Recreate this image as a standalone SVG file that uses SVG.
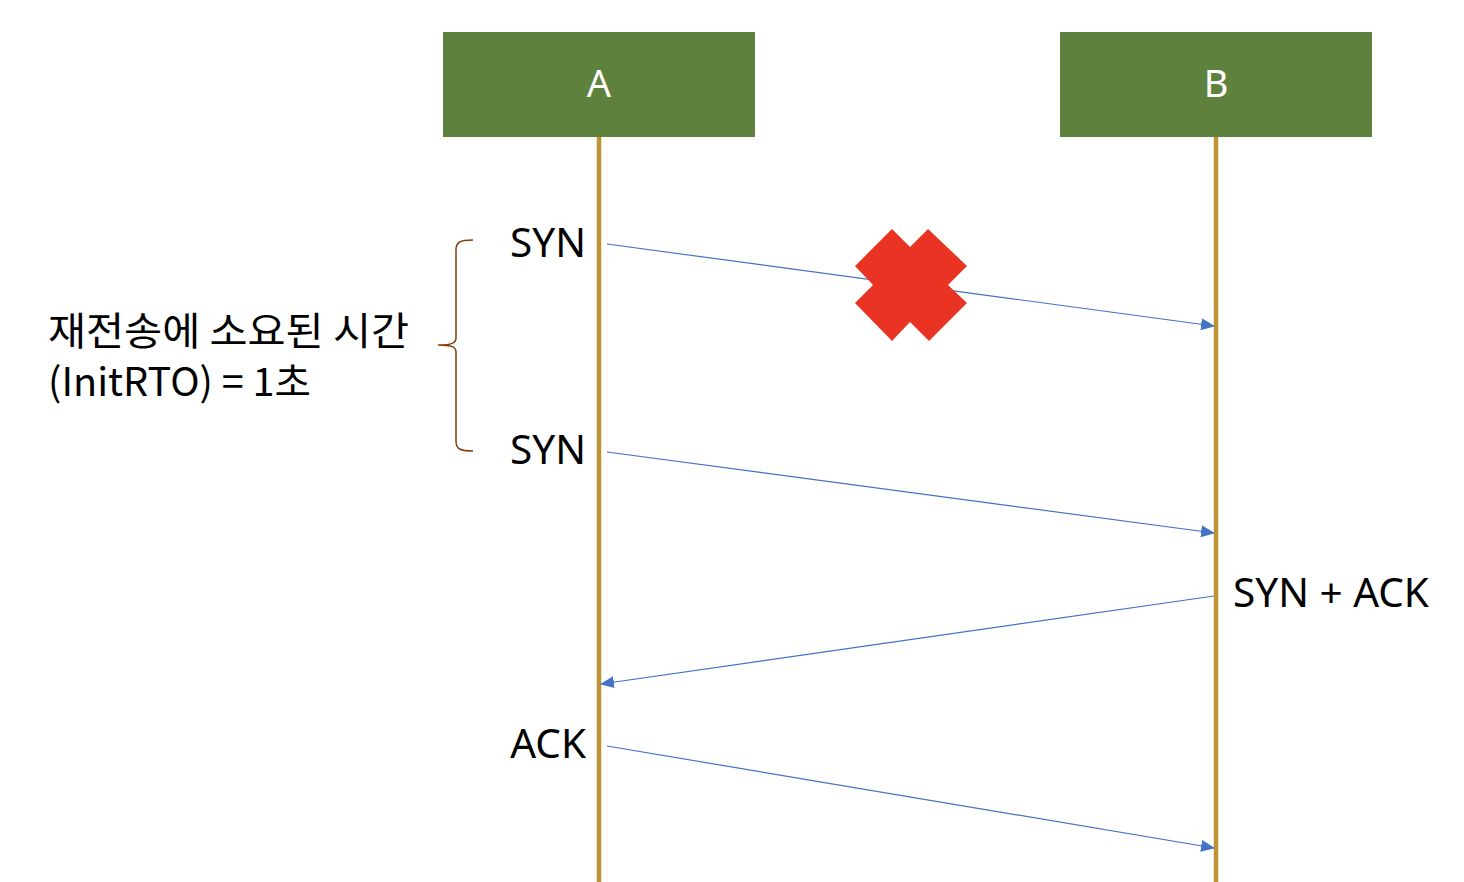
<svg xmlns="http://www.w3.org/2000/svg" width="1464" height="882" viewBox="0 0 1464 882">
<defs>
<style>
.box{fill:#5F813E;}
.hd{font-family:"Noto Sans","Noto Sans CJK KR",sans-serif;font-size:38px;fill:#fff;text-anchor:middle;}
.life{stroke:#BE9336;stroke-width:4.5;fill:none;}
.msg{stroke:#4472C4;stroke-width:1.2;fill:none;marker-end:url(#ah);}
.lbl{font-family:"Noto Sans","Noto Sans CJK KR",sans-serif;font-size:40.5px;fill:#000;}
.note{font-family:"Noto Sans CJK KR","Noto Sans",sans-serif;font-size:39px;fill:#000;}
</style>
<marker id="ah" viewBox="0 0 14 12" refX="13" refY="6" markerWidth="14" markerHeight="12" markerUnits="userSpaceOnUse" orient="auto">
<path d="M0,0 L14,6 L0,12 Z" fill="#4472C4"/>
</marker>
</defs>
<rect width="1464" height="882" fill="#fff"/>
<g id="nodeA">
<rect class="box" x="443" y="32" width="312" height="105"/>
<text class="hd" x="599" y="97">A</text>
</g>
<g id="nodeB">
<rect class="box" x="1060" y="32" width="312" height="105"/>
<text class="hd" x="1216" y="97">B</text>
</g>
<g id="lifelines">
<line class="life" x1="599" y1="137" x2="599" y2="882"/>
<line class="life" x1="1216" y1="137" x2="1216" y2="882"/>
</g>
<g id="connectors">
<line class="msg" x1="607" y1="244" x2="1214" y2="326"/>
<line class="msg" x1="607" y1="452" x2="1214" y2="533"/>
<line class="msg" x1="1214" y1="596" x2="601" y2="684"/>
<line class="msg" x1="607" y1="746" x2="1214" y2="848"/>
</g>
<g id="labels">
<text class="lbl" x="586" y="257" text-anchor="end">SYN</text>
<text class="lbl" x="586" y="464" text-anchor="end">SYN</text>
<text class="lbl" x="1233" y="607">SYN + ACK</text>
<text class="lbl" x="586" y="758" text-anchor="end">ACK</text>
</g>
<g id="lost">
<polygon points="892,229 910,247 928,229 967,266 948,285 967,303 929,341 910,322 892,341 855,303 873,285 855,266" fill="#E93424"/>
</g>
<g id="brace">
<path d="M473,240 C460,240 456,242 456,250 L456,338 C456,343 452,345 438,345 C452,345 456,347 456,352 L456,441 C456,449 460,451 473,451" fill="none" stroke="#843C0C" stroke-width="1.5"/>
</g>
<g id="note">
<text class="note" x="48" y="345" textLength="361" lengthAdjust="spacingAndGlyphs">재전송에 소요된 시간</text>
<text class="note" x="48" y="396" textLength="263" lengthAdjust="spacingAndGlyphs">(InitRTO) = 1초</text>
</g>
</svg>
